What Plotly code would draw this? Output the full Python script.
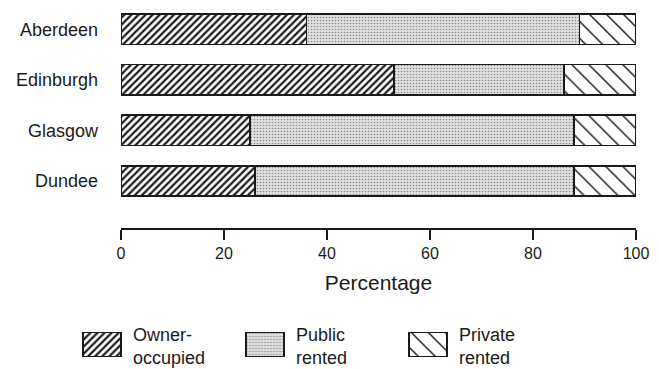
import plotly.graph_objects as go

# Housing tenure by city (percentage of households)
cities = ["Aberdeen", "Edinburgh", "Glasgow", "Dundee"]
owner_occupied = [36, 53, 25, 26]
public_rented = [53, 33, 63, 62]
private_rented = [11, 14, 12, 12]

series_names = ["Owner-<br>occupied", "Public<br>rented", "Private<br>rented"]
series_values = [owner_occupied, public_rented, private_rented]
x_ticks = [0, 20, 40, 60, 80, 100]

FONT = "Liberation Sans, Arial, Helvetica, sans-serif"
INK = "#1a1a1a"

patterns = [
    dict(shape="/", size=5, solidity=0.45, fgcolor=INK, bgcolor="white", fillmode="replace"),
    dict(shape=".", size=3, solidity=0.22, fgcolor="#8c8c8c", bgcolor="#e0e0e0", fillmode="replace"),
    dict(shape="\\", size=12, solidity=0.12, fgcolor=INK, bgcolor="white", fillmode="replace"),
]

fig = go.Figure()

# Stacked horizontal bars
for name, vals, pat in zip(series_names, series_values, patterns):
    fig.add_trace(go.Bar(
        y=cities, x=vals, orientation="h", name=name,
        marker=dict(color="white", pattern=pat, line=dict(color=INK, width=1.6)),
        width=0.6, showlegend=False, xaxis="x", yaxis="y",
    ))

# Legend keys on a small auxiliary axis
for i, (name, pat) in enumerate(zip(series_names, patterns)):
    fig.add_trace(go.Bar(
        x=[i], y=[1], base=[0], width=0.235,
        marker=dict(color="white", pattern=pat, line=dict(color=INK, width=1.6)),
        showlegend=False, xaxis="x2", yaxis="y2", hoverinfo="skip",
    ))
    fig.add_annotation(
        x=i + 0.18, y=0.062, xref="x2", yref="paper",
        text=name, showarrow=False, xanchor="left", yanchor="middle", align="left",
        font=dict(family=FONT, size=18, color=INK),
    )

W, H = 659, 369
fig.update_layout(
    width=W, height=H,
    margin=dict(l=0, r=0, t=0, b=0),
    paper_bgcolor="white", plot_bgcolor="white",
    barmode="stack", bargap=0.4,
    font=dict(family=FONT, color=INK),
    xaxis=dict(
        domain=[121 / W, 636 / W], range=[0, 100], tickvals=x_ticks,
        showgrid=False, zeroline=False, showline=True, linecolor=INK, linewidth=1.5,
        ticks="outside", ticklen=10, tickwidth=1.5, tickcolor=INK,
        tickfont=dict(size=16, family=FONT, color=INK),
        title=dict(text="Percentage", font=dict(size=21, family=FONT, color=INK), standoff=14),
        automargin=False, fixedrange=True,
    ),
    yaxis=dict(
        domain=[1 - 228 / H, 1 - 4 / H], range=[3.93, -0.5],
        showgrid=False, zeroline=False, showline=False, ticks="",
        ticklabelstandoff=22, tickfont=dict(size=18, family=FONT, color=INK),
        automargin=False, fixedrange=True,
    ),
    xaxis2=dict(
        domain=[20.5 / W, 509.5 / W], range=[-0.5, 2.5], visible=False,
        anchor="y2", fixedrange=True,
    ),
    yaxis2=dict(
        domain=[1 - 357 / H, 1 - 332 / H], range=[0, 1], visible=False,
        anchor="x2", fixedrange=True,
    ),
)

fig.write_html("out.html")
